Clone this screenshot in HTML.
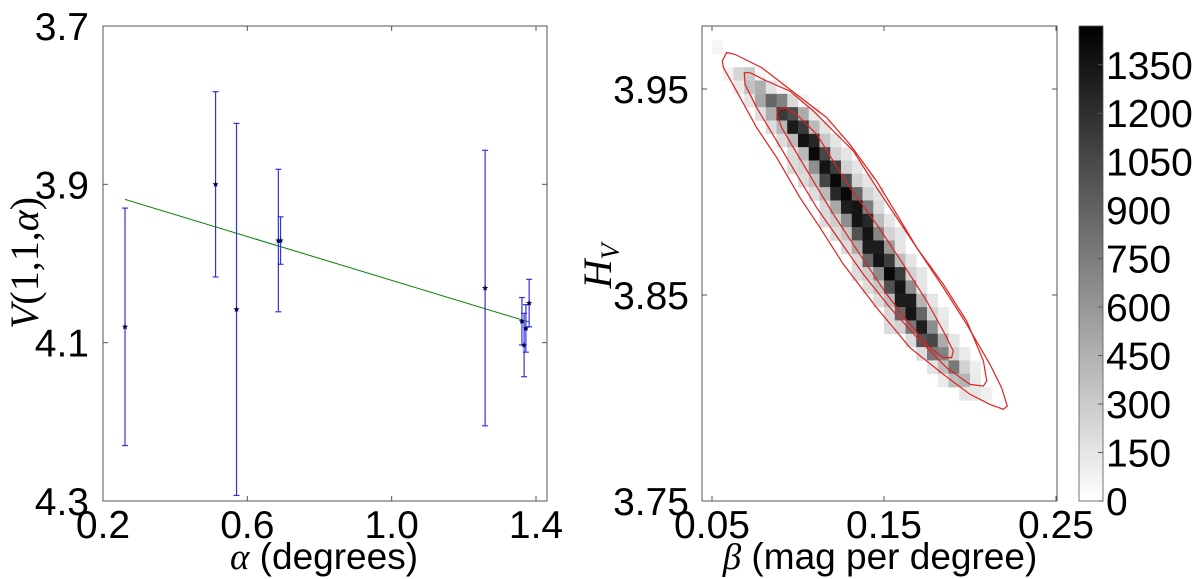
<!DOCTYPE html>
<html><head><meta charset="utf-8"><style>
html,body{margin:0;padding:0;background:#fff;}
svg{display:block;font-family:"Liberation Sans","DejaVu Sans",sans-serif;}
</style></head><body>
<svg id="fig" width="1200" height="579" viewBox="0 0 1200 579"></svg>
<script>
// ---- Left chart data ----
const alphaVals = [0.261, 0.512, 0.570, 0.686, 0.692, 1.259, 1.361, 1.367, 1.372, 1.381];
const vVals     = [4.080, 3.900, 4.058, 3.971, 3.971, 4.031, 4.073, 4.103, 4.082, 4.050];
const vErrs     = [0.150, 0.117, 0.235, 0.090, 0.030, 0.174, 0.030, 0.040, 0.030, 0.030];
const fitAlpha  = [0.261, 1.381];
const fitV      = [3.919, 4.074];
const leftXTicks = [0.2, 0.6, 1.0, 1.4];
const leftXTickLabels = ["0.2", "0.6", "1.0", "1.4"];
const leftYTicks = [3.7, 3.9, 4.1, 4.3];
const leftYTickLabels = ["3.7", "3.9", "4.1", "4.3"];

// ---- Right chart data ----
const betaBin0 = 0.05, betaStep = 0.00625, hTop = 3.98, hStep = 0.00647;
// each row: [startColumn, counts...]
const histRows = [
  [0],
  [0, 60],
  [0],
  [1, 80, 250, 300, 60],
  [2, 120, 350, 460, 180, 60],
  [3, 150, 500, 880, 720, 220, 60],
  [4, 180, 470, 1140, 1040, 480, 120],
  [5, 200, 420, 1320, 1130, 400, 150],
  [6, 200, 400, 1360, 1250, 320, 150],
  [7, 200, 400, 1420, 1060, 260, 150],
  [7, 200, 250, 650, 1350, 1120, 260, 150],
  [8, 200, 350, 1070, 1420, 1010, 260, 150],
  [9, 200, 400, 1240, 1420, 870, 260, 150],
  [10, 220, 500, 1300, 1350, 750, 200],
  [10, 200, 280, 650, 1350, 1240, 380, 150],
  [11, 200, 320, 1000, 1350, 700, 260, 150],
  [12, 200, 480, 1300, 1300, 580, 150],
  [13, 220, 880, 1350, 1120, 380, 150],
  [13, 200, 280, 650, 1420, 1120, 260, 150],
  [14, 200, 320, 1000, 1350, 650, 150],
  [15, 200, 380, 1300, 1300, 420, 150],
  [16, 220, 880, 1350, 880, 260, 120],
  [16, 200, 260, 780, 1300, 650, 150],
  [18, 200, 1000, 1060, 480, 150],
  [19, 200, 780, 720, 260, 120],
  [20, 150, 380, 780, 260, 100],
  [21, 120, 380, 440, 120],
  [23, 150, 150, 100]
];
const cbMax = 1470;
const cbTicks = [0,150,300,450,600,750,900,1050,1200,1350];
const rightXTicks = [0.05, 0.15, 0.25];
const rightXTickLabels = ["0.05", "0.15", "0.25"];
const rightYTicks = [3.75, 3.85, 3.95];
const rightYTickLabels = ["3.75", "3.85", "3.95"];
const contourOuterBeta = [0.0560,0.0585,0.0634,0.0711,0.0789,0.0953,0.1167,0.1302,0.1457,0.1574,0.1690,0.1845,0.1981,0.2116,0.2184,0.2217,0.2194,0.2116,0.2000,0.1845,0.1651,0.1457,0.1264,0.1128,0.1012,0.0876,0.0760,0.0643,0.0566];
const contourOuterH    = [3.9636,3.9677,3.9668,3.9636,3.9604,3.9498,3.9361,3.9231,3.9053,3.8892,3.8730,3.8536,3.8358,3.8163,3.8050,3.7961,3.7945,3.7969,3.8018,3.8115,3.8244,3.8439,3.8649,3.8827,3.8972,3.9167,3.9312,3.9490,3.9604];
const contourMidBeta = [0.0688,0.0721,0.0818,0.0953,0.1089,0.1205,0.1322,0.1457,0.1574,0.1690,0.1845,0.1981,0.2078,0.2097,0.2078,0.2000,0.1864,0.1709,0.1535,0.1380,0.1244,0.1109,0.0992,0.0876,0.0760,0.0692];
const contourMidH    = [3.9579,3.9579,3.9539,3.9490,3.9393,3.9296,3.9199,3.9021,3.8875,3.8730,3.8552,3.8374,3.8180,3.8083,3.8058,3.8066,3.8147,3.8277,3.8439,3.8600,3.8762,3.8924,3.9086,3.9248,3.9409,3.9523];
const contourInBeta = [0.0886,0.0924,0.0992,0.1109,0.1205,0.1302,0.1457,0.1612,0.1748,0.1845,0.1903,0.1893,0.1845,0.1767,0.1651,0.1516,0.1360,0.1205,0.1089,0.0973,0.0905,0.0876];
const contourInH    = [3.9401,3.9409,3.9377,3.9280,3.9150,3.9021,3.8843,3.8649,3.8471,3.8325,3.8228,3.8196,3.8196,3.8244,3.8358,3.8503,3.8697,3.8892,3.9053,3.9215,3.9312,3.9377];

const NS = "http://www.w3.org/2000/svg";
const svg = document.getElementById('fig');
function mk(tag, attrs, parent) {
  const e = document.createElementNS(NS, tag);
  for (const k in attrs) e.setAttribute(k, attrs[k]);
  (parent || svg).appendChild(e);
  return e;
}
const L = {x0:103, x1:547, y0:26, y1:501};
const lx = a => L.x0 + (a - 0.2) / 1.2 * (536 - 103);
const ly = v => L.y0 + (v - 3.7) / 0.6 * (L.y1 - L.y0);
const R = {x0:702, x1:1057, y0:26, y1:501};
const rx = b => 712 + (b - 0.05) / 0.2 * (1056 - 712);
function ryf(h){ return 501 - (h - 3.75) / 0.1 * 206; }
function star(cx, cy, r) {
  const p = [];
  for (let k = 0; k < 10; k++) {
    const ang = -Math.PI/2 + k * Math.PI / 5;
    const rr = k % 2 ? r * 0.45 : r;
    p.push((cx + rr*Math.cos(ang)).toFixed(1) + ',' + (cy + rr*Math.sin(ang)).toFixed(1));
  }
  return p.join(' ');
}

// ---- LEFT CHART ----
const gL = mk('g', {});


const fitLine = mk('line', {x1:lx(fitAlpha[0]), y1:ly(fitV[0]), x2:lx(fitAlpha[1]), y2:ly(fitV[1]), stroke:'#008000', 'stroke-width':1}, gL);


for (let i = 0; i < alphaVals.length; i++) {
  const g = mk('g', {}, gL);
  
  
  const x = lx(alphaVals[i]), yt = ly(vVals[i] - vErrs[i]), yb = ly(vVals[i] + vErrs[i]), y = ly(vVals[i]);
  mk('line', {x1:x, y1:yt, x2:x, y2:yb, stroke:'#3333dd', 'stroke-width':1.2}, g);
  mk('line', {x1:x-3, y1:yt, x2:x+3, y2:yt, stroke:'#3333dd', 'stroke-width':1.2}, g);
  mk('line', {x1:x-3, y1:yb, x2:x+3, y2:yb, stroke:'#3333dd', 'stroke-width':1.2}, g);
  mk('polygon', {points:star(x, y, 3.2), fill:'#000050'}, g);
}
const frameL = mk('rect', {x:L.x0, y:L.y0, width:L.x1-L.x0, height:L.y1-L.y0, fill:'none', stroke:'#555', 'stroke-width':1}, gL);


leftXTicks.forEach((t, i) => {
  const x = lx(t);
  mk('line', {x1:x, y1:L.y1, x2:x, y2:L.y1-5, stroke:'#555'}, gL);
  mk('line', {x1:x, y1:L.y0, x2:x, y2:L.y0+5, stroke:'#555'}, gL);
  const tx = mk('text', {x:x, y:538, 'font-size':39, 'text-anchor':'middle'}, gL);
  tx.textContent = leftXTickLabels[i];
  
  
});
leftYTicks.forEach((t, i) => {
  const y = ly(t);
  mk('line', {x1:L.x0, y1:y, x2:L.x0+5, y2:y, stroke:'#555'}, gL);
  mk('line', {x1:L.x1, y1:y, x2:L.x1-5, y2:y, stroke:'#555'}, gL);
  const tx = mk('text', {x:89, y:y+14, 'font-size':39, 'text-anchor':'end'}, gL);
  tx.textContent = leftYTickLabels[i];
  
  
});
const xlabL = mk('text', {x:324, y:569, 'font-size':37, 'text-anchor':'middle'}, gL);
xlabL.innerHTML = '<tspan font-family="Liberation Serif, serif" font-style="italic">α</tspan> (degrees)';


const ylabL = mk('text', {x:0, y:0, 'font-size':40, 'text-anchor':'middle', 'font-family':'Liberation Serif, serif', transform:'translate(38,263) rotate(-90)'}, gL);
ylabL.innerHTML = '<tspan font-style="italic">V</tspan>(1,1,<tspan font-style="italic">α</tspan>)';



// ---- RIGHT CHART ----
const gR = mk('g', {});


const gray = c => { const v = Math.round(255 * (1 - Math.min(c, cbMax) / cbMax)); return `rgb(${v},${v},${v})`; };
histRows.forEach((row, r) => {
  const c0 = row[0];
  for (let j = 1; j < row.length; j++) {
    const b0 = betaBin0 + (c0 + j - 1) * betaStep;
    const h0 = hTop - r * hStep;
    const x = rx(b0), y = ryf(h0);
    const cell = mk('rect', {x:x, y:y, width:rx(b0+betaStep)-x+0.3, height:ryf(h0-hStep)-y+0.3, fill:gray(row[j])}, gR);
    
    
  }
});
function contour(bs, hs, name) {
  const pts = bs.map((b, i) => rx(b).toFixed(1) + ',' + ryf(hs[i]).toFixed(1)).join(' ');
  const p = mk('polygon', {points:pts, fill:'none', stroke:'#e02020', 'stroke-width':1.2}, gR);
  
  
}
contour(contourOuterBeta, contourOuterH, 'contour-outer');
contour(contourMidBeta, contourMidH, 'contour-middle');
contour(contourInBeta, contourInH, 'contour-inner');
const frameR = mk('rect', {x:R.x0, y:R.y0, width:R.x1-R.x0, height:R.y1-R.y0, fill:'none', stroke:'#555', 'stroke-width':1}, gR);


rightXTicks.forEach((t, i) => {
  const x = rx(t);
  mk('line', {x1:x, y1:R.y1, x2:x, y2:R.y1-5, stroke:'#555'}, gR);
  mk('line', {x1:x, y1:R.y0, x2:x, y2:R.y0+5, stroke:'#555'}, gR);
  const tx = mk('text', {x:x, y:538, 'font-size':39, 'text-anchor':'middle'}, gR);
  tx.textContent = rightXTickLabels[i];
  
  
});
rightYTicks.forEach((t, i) => {
  const y = ryf(t);
  mk('line', {x1:R.x0, y1:y, x2:R.x0+5, y2:y, stroke:'#555'}, gR);
  mk('line', {x1:R.x1, y1:y, x2:R.x1-5, y2:y, stroke:'#555'}, gR);
  const tx = mk('text', {x:689, y:y+14, 'font-size':39, 'text-anchor':'end'}, gR);
  tx.textContent = rightYTickLabels[i];
  
  
});
const xlabR = mk('text', {x:880, y:569, 'font-size':37, 'text-anchor':'middle'}, gR);
xlabR.innerHTML = '<tspan font-family="Liberation Serif, serif" font-style="italic">β</tspan> (mag per degree)';


const ylabR = mk('text', {x:0, y:0, 'font-size':40, 'text-anchor':'middle', 'font-family':'Liberation Serif, serif', 'font-style':'italic', transform:'translate(611,266) rotate(-90)'}, gR);
ylabR.innerHTML = 'H<tspan font-size="26" dy="8">V</tspan>';



// Colorbar
const defs = mk('defs', {});
const lg = mk('linearGradient', {id:'cbg', x1:0, y1:1, x2:0, y2:0}, defs);
mk('stop', {offset:'0', 'stop-color':'#fff'}, lg);
mk('stop', {offset:'1', 'stop-color':'#000'}, lg);
const cbY = v => 501 - v / cbMax * (501 - 26);
const cb = mk('rect', {x:1079, y:26, width:24, height:475, fill:'url(#cbg)', stroke:'#555', 'stroke-width':0.8});


cbTicks.forEach(t => {
  const y = cbY(t);
  mk('line', {x1:1098, y1:y, x2:1103, y2:y, stroke:'#555'});
  const tx = mk('text', {x:1106, y:y+14, 'font-size':39});
  tx.textContent = String(t);
  
  
});
</script>
</body></html>
